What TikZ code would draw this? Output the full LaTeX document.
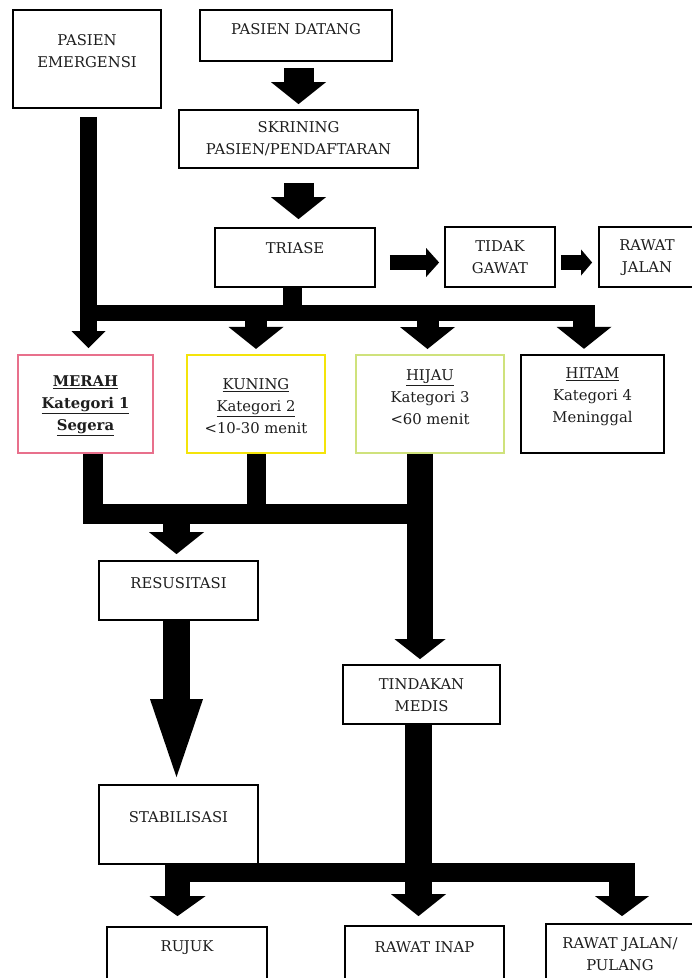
\documentclass[tikz,border=0pt]{standalone}
\usepackage{fontspec}
\setmainfont{DejaVu Serif}
\usetikzlibrary{arrows.meta,calc}
\definecolor{pinkM}{HTML}{E8708C}
\definecolor{yellowK}{HTML}{F4E40A}
\definecolor{greenH}{HTML}{CFE27C}
\definecolor{inkT}{HTML}{1E1E1E}
\newcommand\mkbox[6]{\node[box,#6,minimum width=#4pt-#2pt,minimum height=#5pt-#3pt] (#1) at ({(#2+#4)/2},{-(#3+#5)/2}) {};}
\begin{document}
\begin{tikzpicture}[x=1pt,y=1pt,
  box/.style={draw=black,line width=1.8pt,fill=white,inner sep=0pt},
  txt/.style={font=\fontsize{14.8}{22}\selectfont,text=inkT,align=center,inner sep=0pt},
  shaft/.style={draw=black,line width=#1,line cap=butt,line join=miter},
  tipA/.style={-{Triangle[width=55pt,length=22pt,line width=0pt]}},
  tipS/.style={-{Triangle[width=34pt,length=17pt,line width=0pt]}}]
\useasboundingbox (0,0) rectangle (692,-978);
\clip (0,0) rectangle (692,-978);
\fill[white] (0,0) rectangle (692,-978);

% boxes
\mkbox{emerg}{13}{10}{161}{108}{}
\mkbox{datang}{200}{10}{392}{61}{}
\mkbox{skrin}{179}{110}{418}{168}{}
\mkbox{triase}{215}{228}{375}{287}{}
\mkbox{tidak}{445}{227}{555}{287}{}
\mkbox{rjalan}{599}{227}{697}{287}{}
\mkbox{merah}{18}{355}{153}{453}{draw=pinkM,line width=2pt}
\mkbox{kuning}{187}{355}{325}{453}{draw=yellowK,line width=2.2pt}
\mkbox{hijau}{356}{355}{504}{453}{draw=greenH,line width=2pt}
\mkbox{hitam}{521}{355}{664}{453}{line width=2.4pt}
\mkbox{resus}{99}{561}{258}{620}{}
\mkbox{tindak}{343}{665}{500}{724}{}
\mkbox{stabil}{99}{785}{258}{864}{}
\mkbox{rujuk}{107}{927}{267}{1010}{}
\mkbox{rinap}{345}{926}{504}{1010}{}
\mkbox{rjp}{546}{924}{696}{1010}{}

% texts
\node[txt] (emergT) at (87,-51) {PASIEN\\EMERGENSI};
\node[txt] (datangT) at (296,-29) {PASIEN DATANG};
\node[txt] (skrinT) at (298.5,-139) {SKRINING\\PASIEN/PENDAFTARAN};
\node[txt] (triaseT) at (295,-248) {TRIASE};
\node[txt] (tidakT) at (500,-257.5) {TIDAK\\GAWAT};
\node[txt] (rjalanT) at (647,-257.5) {RAWAT\\JALAN};
\node[txt] (merahT) at (85.5,-406) {\textbf{\underline{MERAH}}\\\textbf{\underline{Kategori 1}}\\\textbf{\underline{Segera}}};
\node[txt] (kuningT) at (256,-406) {\underline{KUNING}\\\underline{Kategori 2}\\<10-30 menit};
\node[txt] (hijauT) at (430,-397) {\underline{HIJAU}\\Kategori 3\\<60 menit};
\node[txt] (hitamT) at (592.5,-397) {\underline{HITAM}\\Kategori 4\\Meninggal};
\node[txt] (resusT) at (178.5,-583) {RESUSITASI};
\node[txt] (tindakT) at (421.5,-695) {TINDAKAN\\MEDIS};
\node[txt] (stabilT) at (178.5,-817) {STABILISASI};
\node[txt] (rujukT) at (187,-948) {RUJUK};
\node[txt] (rinapT) at (424.5,-947) {RAWAT INAP};
\node[txt] (rjpT) at (620,-954) {RAWAT JALAN/\\PULANG};

% top arrows
\draw[shaft=30pt,tipA,shorten <=6pt,shorten >=5pt] (skrin.north |- datang.south) -- (skrin.north);
\draw[shaft=30pt,tipA,shorten <=14pt,shorten >=8pt] (skrin.south) -- (skrin.south |- triase.north);
\draw[shaft=15pt,-{Triangle[width=29pt,length=13pt,line width=0pt]},shorten <=14pt,shorten >=5pt]
  ($(triase.east)+(0,-5)$) -- ($(triase.east -| tidak.west)+(0,-5)$);
\draw[shaft=15pt,-{Triangle[width=26pt,length=11pt,line width=0pt]},shorten <=5pt,shorten >=6pt]
  ($(triase.east -| tidak.east)+(0,-5)$) -- ($(triase.east -| rjalan.west)+(0,-5)$);

% emergency line and first bus
\coordinate (bus) at (0,-313);
\draw[shaft=17pt,tipS,shorten <=8pt,shorten >=6pt] ($(emerg.south)+(1.5,0)$) -- ($(emerg.south |- merah.north)+(1.5,0)$);
\draw[shaft=19pt] ($(triase.south)+(-2.5,0)$) -- ($(triase.south |- bus)+(-2.5,0)$);
\draw[shaft=16pt] ($(emerg.south |- bus)+(1.5,0)$) -- ($(hitam.north |- bus)+(2.5,0)$);
\draw[shaft=22pt,tipA,shorten >=5pt] ($(kuning.north |- bus)+(0,8)$) -- (kuning.north);
\draw[shaft=22pt,tipA,shorten >=5pt] ($(hijau.north |- bus)+(-2.5,8)$) -- ($(hijau.north)+(-2.5,0)$);
\draw[shaft=22pt,tipA,shorten >=5pt] ($(hitam.north |- bus)+(-8.5,8)$) -- ($(hitam.north)+(-8.5,0)$);

% second bus
\coordinate (bus2) at (0,-514);
\coordinate (hcol) at ($(hijau.south)+(-10,0)$);
\draw[shaft=20pt] ($(merah.south)+(7,0)$) |- (hcol |- bus2);
\draw[shaft=19pt] (kuning.south) -- (kuning.south |- bus2);
\draw[shaft=26pt,-{Triangle[width=51pt,length=20pt,line width=0pt]},shorten >=5pt] (hcol) -- (hcol |- tindak.north);
\draw[shaft=27pt,tipA,shorten >=6pt] ($(resus.north |- bus2)+(-2,0)$) -- ($(resus.north)+(-2,0)$);
\draw[shaft=27pt,-{Triangle[width=53pt,length=78pt,line width=0pt]},shorten >=7pt] ($(resus.south)+(-2,0)$) -- ($(stabil.north)+(-2,0)$);

% third bus
\coordinate (bus3) at (0,-872.5);
\draw[shaft=27pt,tipA,shorten >=9pt] ($(tindak.south)+(-3,0)$) -- ($(tindak.south |- rinap.north)+(-3,0)$);
\draw[shaft=25pt,-{Triangle[width=56pt,length=20pt,line width=0pt]},shorten >=10pt] ($(stabil.south)+(-1,0)$) -- ($(stabil.south |- rujuk.north)+(-1,0)$);
\draw[shaft=19pt] ($(stabil.south |- bus3)+(-1,0)$) -- ($(rjp.north |- bus3)+(14,0)$);
\draw[shaft=26pt,-{Triangle[width=54pt,length=20pt,line width=0pt]},shorten >=7pt] ($(rjp.north |- bus3)+(1,9.5)$) -- ($(rjp.north)+(1,0)$);
\end{tikzpicture}
\end{document}
